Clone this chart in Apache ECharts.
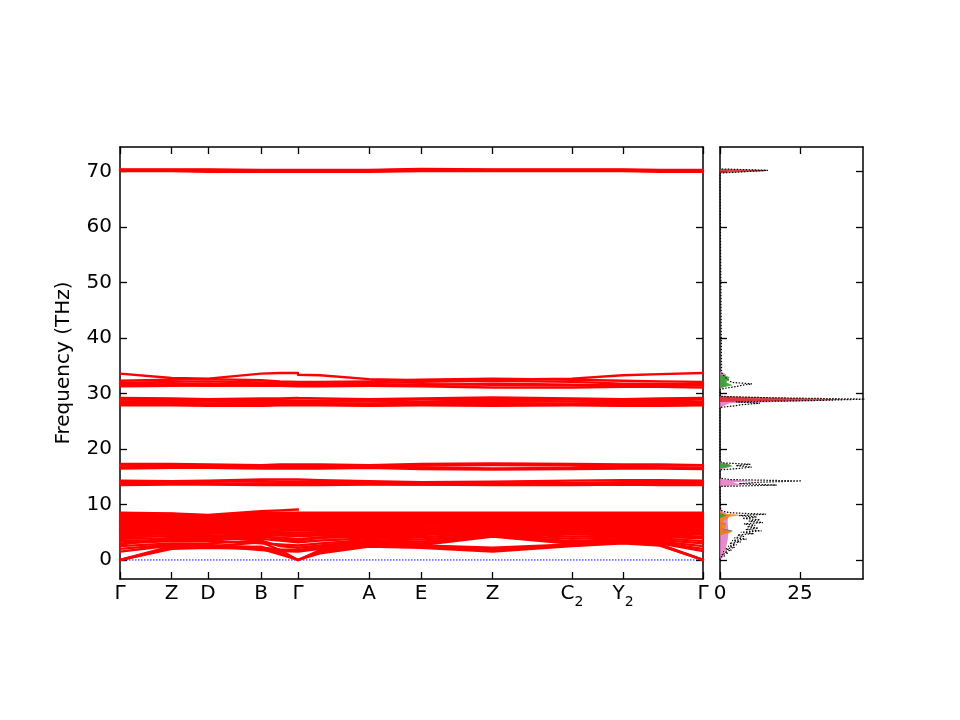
<!DOCTYPE html>
<html><head><meta charset="utf-8">
<script src="https://cdn.jsdelivr.net/npm/echarts@6/dist/echarts.min.js"></script>
<style>html,body{margin:0;padding:0;background:#fff}#c{width:960px;height:720px}</style>
</head><body><div id="c"></div>
<script>
// k-path positions (two segments, broken at the middle Γ)
const kSeg1 = [0, 51.7, 88, 141, 160, 178];
const kSeg2 = [178, 200, 249, 301, 372.7, 452, 503, 540, 583];
const kTickPos = [0, 51.7, 88, 141, 178, 249, 301, 372.7, 452, 503, 583];
const kTickLabels = ['Γ', 'Z', 'D', 'B', 'Γ', 'A', 'E', 'Z', 'C_2', 'Y_2', 'Γ'];
const freqTicks = [0, 10, 20, 30, 40, 50, 60, 70];
const dosTicks = [0, 25];

// band frequencies (THz): first 6 values on segment 1, next 9 on segment 2
const bandsTop = [
  [70.3,70.3,70.3,70.2,70.2,70.1, 70.1,70.1,70.2,70.4,70.3,70.3,70.3,70.2,70.2],
  [70.2,70.2,70.2,70.1,70.1,70.1, 70.1,70.1,70.1,70.2,70.2,70.2,70.2,70.1,70.1],
  [70.1,70.1,70.0,70.0,70.0,70.0, 70.0,70.0,70.0,70.1,70.1,70.1,70.1,70.0,70.0],
  [70.4,70.4,70.4,70.3,70.3,70.3, 70.3,70.3,70.3,70.5,70.4,70.4,70.4,70.3,70.3]
];
const bands32 = [
  [33.6,32.8,32.7,33.6,33.7,33.7, 33.4,33.3,32.6,32.4,32.5,32.7,33.3,33.5,33.7],
  [32.3,32.5,32.6,32.4,32.2,32.1, 32.1,32.1,32.2,32.5,32.7,32.5,32.3,32.2,32.1],
  [31.9,32.1,32.2,32.0,31.9,31.8, 31.8,31.8,31.9,32.1,32.3,32.1,31.8,31.8,31.7],
  [31.6,31.7,31.8,31.7,31.6,31.5, 31.5,31.5,31.6,31.7,31.6,31.5,31.5,31.6,31.5],
  [31.3,31.4,31.5,31.4,31.4,31.3, 31.3,31.3,31.4,31.3,31.1,31.1,31.2,31.2,31.1],
  [31.8,31.6,31.4,31.5,31.6,31.7, 31.7,31.6,31.5,31.5,31.8,31.6,31.4,31.5,31.9]
];
const bands28 = [
  [29.2,29.1,29.0,29.1,29.1,29.2, 29.2,29.1,29.0,29.1,29.3,29.1,29.0,29.1,29.2],
  [28.9,28.8,28.9,28.8,28.8,28.7, 28.7,28.7,28.8,28.9,28.8,28.9,28.8,28.8,28.9],
  [28.6,28.5,28.6,28.5,28.5,28.5, 28.5,28.5,28.6,28.5,28.5,28.6,28.6,28.5,28.5],
  [28.3,28.3,28.2,28.3,28.2,28.2, 28.2,28.2,28.2,28.3,28.2,28.2,28.3,28.3,28.3],
  [28.0,28.0,28.1,27.9,28.0,28.0, 28.0,28.0,27.9,28.0,28.1,28.0,27.9,27.9,28.0],
  [27.9,27.9,27.8,27.8,27.9,27.9, 27.9,27.9,27.8,27.9,27.8,27.9,27.8,27.8,27.9]
];
const bands17 = [
  [17.3,17.3,17.2,17.1,17.2,17.2, 17.2,17.2,17.1,17.3,17.4,17.3,17.2,17.2,17.1],
  [17.0,17.0,16.9,16.8,16.9,16.9, 16.9,16.9,16.8,16.7,16.5,16.6,16.9,17.0,17.0],
  [16.7,16.8,16.9,16.9,16.8,16.8, 16.8,16.8,16.9,17.0,17.1,17.0,16.8,16.7,16.6],
  [16.5,16.6,16.6,16.5,16.5,16.5, 16.5,16.5,16.6,16.4,16.3,16.4,16.5,16.5,16.4]
];
const bands14 = [
  [14.3,14.2,14.3,14.5,14.5,14.5, 14.5,14.4,14.2,14.0,14.1,14.3,14.4,14.4,14.3],
  [14.0,14.0,14.1,14.2,14.1,14.1, 14.1,14.1,14.0,13.9,13.8,13.9,14.0,14.0,14.0],
  [13.8,13.8,13.7,13.8,13.8,13.8, 13.8,13.8,13.7,13.6,13.6,13.7,13.7,13.8,13.8],
  [13.5,13.6,13.6,13.5,13.5,13.5, 13.5,13.5,13.6,13.6,13.5,13.5,13.6,13.5,13.5]
];
const bandsLow = [
  [0.0,2.0,2.2,2.0,1.0,0.0, 0.0,1.2,2.4,2.2,1.5,2.5,3.0,2.6,0.0],
  [0.0,2.2,2.3,2.4,1.3,0.0, 0.0,1.5,2.6,2.4,1.8,2.6,3.1,2.7,0.0],
  [0.0,2.5,2.4,3.2,1.8,0.0, 0.0,1.8,2.8,2.5,2.0,2.7,3.2,2.8,0.0],
  [1.5,2.6,2.6,1.8,1.6,1.5, 1.5,2.0,3.0,2.6,2.2,2.8,3.3,3.0,1.6],
  [2.0,2.8,2.7,2.2,1.9,1.8, 1.8,2.3,3.2,2.7,4.2,2.9,3.4,3.1,2.0],
  [2.5,3.0,3.0,3.5,2.5,2.2, 2.2,2.6,3.4,3.0,4.3,3.1,3.6,3.3,2.5],
  [3.0,3.4,3.5,3.0,2.8,2.6, 2.6,3.0,3.6,3.3,4.4,3.4,3.8,3.6,3.0],
  [3.4,3.6,3.8,3.8,3.5,3.2, 3.2,3.5,3.9,3.7,4.6,3.8,4.1,3.9,3.4],
  [3.8,3.9,4.0,4.2,4.0,3.8, 3.8,4.0,4.2,4.1,4.8,4.2,4.4,4.2,3.9],
  [4.1,4.3,4.3,4.5,4.4,4.3, 4.3,4.4,4.5,4.5,5.0,4.6,4.7,4.5,4.2],
  [4.5,4.6,4.7,4.8,4.7,4.6, 4.6,4.7,4.8,4.8,5.2,4.9,5.0,4.8,4.6],
  [4.8,4.9,5.0,5.1,5.0,4.9, 4.9,5.0,5.1,5.1,5.4,5.2,5.2,5.1,4.9],
  [5.1,5.2,5.3,5.4,5.3,5.3, 5.3,5.3,5.4,5.4,5.6,5.5,5.5,5.4,5.2],
  [5.4,5.5,5.6,5.7,5.6,5.6, 5.6,5.6,5.7,5.7,5.8,5.8,5.8,5.7,5.5],
  [5.7,5.8,5.9,6.0,5.9,5.9, 5.9,5.9,6.0,6.0,6.1,6.0,6.1,6.0,5.8],
  [6.0,6.1,6.2,6.2,6.2,6.2, 6.2,6.2,6.3,6.3,6.3,6.3,6.3,6.3,6.1],
  [6.3,6.4,6.5,6.5,6.5,6.5, 6.5,6.5,6.5,6.5,6.6,6.6,6.6,6.5,6.4],
  [6.6,6.7,6.7,6.8,6.8,6.7, 6.7,6.7,6.8,6.8,6.8,6.8,6.9,6.8,6.7],
  [6.9,7.0,7.0,7.1,7.0,7.0, 7.0,7.0,7.0,7.1,7.1,7.1,7.1,7.1,7.0],
  [7.2,7.2,7.2,7.3,7.3,7.3, 7.3,7.3,7.3,7.3,7.3,7.4,7.4,7.3,7.3],
  [7.5,7.5,7.4,7.6,7.6,7.6, 7.6,7.5,7.5,7.6,7.6,7.6,7.6,7.6,7.6],
  [7.8,7.7,7.6,7.9,7.9,7.9, 7.8,7.8,7.8,7.8,7.8,7.9,7.9,7.9,7.9],
  [8.1,8.0,7.8,8.2,8.2,8.2, 8.1,8.1,8.1,8.1,8.1,8.2,8.2,8.2,8.2],
  [8.4,8.3,8.0,8.5,8.5,8.5, 8.4,8.4,8.4,8.4,8.4,8.4,8.4,8.4,8.4],
  [8.5,8.4,8.1,8.8,8.95,9.1, 8.5,8.5,8.5,8.5,8.5,8.5,8.5,8.5,8.5],
  [2.8,4.0,5.2,6.5,7.0,7.4, 7.4,7.0,6.2,5.5,5.0,6.0,6.8,7.2,7.5],
  [7.0,6.0,5.0,4.2,3.8,3.5, 3.5,4.0,5.0,6.2,7.0,6.5,5.5,4.5,4.0],
  [5.5,6.5,7.2,7.8,8.0,8.1, 8.1,7.8,7.2,6.5,6.0,6.8,7.5,7.8,8.0]
];

// total DOS (frequency, states)
const dosFreq = [0,0.25,0.5,0.75,1.0,1.25,1.5,1.75,2.0,2.25,2.5,2.75,3.0,3.25,3.5,3.75,4.0,4.25,4.5,4.75,5.0,5.25,5.5,5.75,6.0,6.25,6.5,6.75,7.0,7.25,7.5,7.75,8.0,8.25,8.5,8.75,9.0,9.25,
  13.25,13.5,13.75,14.0,14.25,14.5,14.75,
  16.25,16.5,16.75,17.0,17.25,17.5,17.75,
  27.5,27.75,28.0,28.25,28.5,28.75,29.0,29.25,29.5,
  30.75,31.0,31.25,31.5,31.75,32.0,32.25,32.5,32.75,33.0,33.25,33.5,33.75,34.0,
  69.75,70.0,70.25,70.5];
const dosTotal = [0,0.5,0.2,1.5,0.6,2.5,1.0,3.6,1.8,4.6,2.5,5.2,3.0,6.5,3.8,8.3,4.5,7.5,5.5,10.5,6.5,13.0,8.0,12.0,8.5,11.0,7.5,13.4,9.0,12.5,7.0,11.5,6.0,14.4,3.5,1.0,0.2,0,
  0,17.7,6,12,25.5,3,0,
  0,6,9.9,5,9.5,1,0,
  0,4,7,12.5,5,30,46,15,0,
  0,2,5,7,10,4,3,2.5,2,1.5,1.2,1.5,0.5,0,
  0,8,15,0];

// partial DOS
const pinkFreq = [0,0.5,1,2,3,4,5,6,7,8,8.5,9, 13.25,13.5,14.0,14.25,14.5,14.75, 16.25,16.75,17.25,17.75, 27.5,28.25,28.75,29.0,29.5, 30.75,31.5,32.5,33.5,34.0];
const pinkDos  = [0,0.8,1.2,1.8,2.2,2.5,2.6,2.5,2.4,2.6,1.5,0, 0,6.8,4,12.5,1,0, 0,3,3,0, 0,3,37,10,0, 0,2,1.5,2,0];
const redFreq = [27.5,28.5,28.9,29.1,29.5, 69.75,70.1,70.3,70.5];
const redDos  = [0,0,41,30,0, 0,14,14.5,0];
const greenFreq = [7.5,8.0,8.5, 16.5,16.9,17.2,17.5, 31.0,31.5,32.0,33.0,33.5];
const greenDos  = [0,2,0, 0,4,3,0, 0,4,2,3,0];
const blueFreq = [4.5,5.0,5.3,5.6,6.0,6.5,7.0];
const blueDos  = [0,2.5,4,1.5,0,2,0];
const orangeFreq = [4.5,4.8,5.2,5.5,6.0,7.0,7.8,8.1,8.4,8.8];
const orangeDos  = [0,3,4,1,2,1,3,7,1,0];

const FONT = 'DejaVu Sans';
const FS = 20;
const chart = echarts.init(document.getElementById('c'), null, {renderer: 'canvas'});

function bandData(b) {
  const d = kSeg1.map((k, i) => [k, b[i]]);
  d.push([178, '-']);
  kSeg2.forEach((k, i) => d.push([k, b[6 + i]]));
  return d;
}
const allBands = [].concat(bandsTop, bands32, bands28, bands17, bands14, bandsLow);
const series = allBands.map(b => ({
  type: 'line', xAxisIndex: 0, yAxisIndex: 0, data: bandData(b), showSymbol: false,
  connectNulls: false, silent: true,
  lineStyle: {color: '#ff0000', width: 2.4, cap: 'round', join: 'round'}, z: 3
}));
series.push({
  type: 'line', xAxisIndex: 0, yAxisIndex: 0, data: [[0, 0], [583, 0]], showSymbol: false, silent: true,
  lineStyle: {color: '#0000ff', width: 1, type: [1.5, 1.5]}, z: 2
});

function fillSeries(freq, dos, color) {
  return {
    type: 'custom', xAxisIndex: 2, yAxisIndex: 2, data: [[0, 0]], silent: true, z: 2,
    clip: true,
    renderItem: function (params, api) {
      const pts = [api.coord([0, freq[0]])];
      for (let i = 0; i < freq.length; i++) pts.push(api.coord([dos[i], freq[i]]));
      pts.push(api.coord([0, freq[freq.length - 1]]));
      return {type: 'polygon', shape: {points: pts}, style: {fill: color, opacity: 0.85}};
    }
  };
}
series.push(fillSeries(pinkFreq, pinkDos, '#e377c2'));
series.push(fillSeries(blueFreq, blueDos, '#1f77b4'));
series.push(fillSeries(orangeFreq, orangeDos, '#ff7f0e'));
series.push(fillSeries(greenFreq, greenDos, '#2ca02c'));
series.push(fillSeries(redFreq, redDos, '#d62728'));
series.push({
  type: 'line', xAxisIndex: 2, yAxisIndex: 2, showSymbol: false, silent: true, z: 4,
  data: dosFreq.map((f, i) => [dosTotal[i], f]),
  lineStyle: {color: '#000', width: 1.2, type: [1.5, 1.5]}
});

const axLine = {show: true, onZero: false, lineStyle: {color: '#000', width: 1.5}};
const tick = vals => ({show: true, inside: true, length: 7, customValues: vals, lineStyle: {color: '#000', width: 1.3}});
const lbl = {color: '#000', fontSize: FS, fontFamily: FONT};
const richLbl = {
  n: {color: '#000', fontSize: FS, fontFamily: FONT, verticalAlign: 'top', lineHeight: 24},
  s: {color: '#000', fontSize: 14, fontFamily: FONT, verticalAlign: 'top', lineHeight: 16, padding: [11, 0, 0, 0]}
};
function kLabel(v) {
  const i = kTickPos.indexOf(v);
  if (i < 0) return '';
  const parts = kTickLabels[i].split('_');
  return parts.length > 1 ? '{n|' + parts[0] + '}{s|' + parts[1] + '}' : '{n|' + parts[0] + '}';
}

chart.setOption({
  animation: false,
  backgroundColor: '#fff',
  grid: [
    {left: 120, top: 147, width: 583, height: 432},
    {left: 720, top: 147, width: 143, height: 432}
  ],
  xAxis: [
    {gridIndex: 0, type: 'value', min: 0, max: 583, position: 'bottom', axisLine: axLine,
     axisTick: tick(kTickPos), splitLine: {show: false},
     axisLabel: Object.assign({}, lbl, {margin: 5, customValues: kTickPos, formatter: kLabel, rich: richLbl})},
    {gridIndex: 0, type: 'value', min: 0, max: 583, position: 'top', axisLine: axLine,
     axisTick: tick(kTickPos), splitLine: {show: false}, axisLabel: {show: false}},
    {gridIndex: 1, type: 'value', min: 0, max: 44.7, position: 'bottom', axisLine: axLine,
     axisTick: tick(dosTicks), splitLine: {show: false},
     axisLabel: Object.assign({}, lbl, {margin: 5, customValues: dosTicks,
       formatter: v => '{n|' + v + '}', rich: richLbl})},
    {gridIndex: 1, type: 'value', min: 0, max: 44.7, position: 'top', axisLine: axLine,
     axisTick: tick(dosTicks), splitLine: {show: false}, axisLabel: {show: false}}
  ],
  yAxis: [
    {gridIndex: 0, type: 'value', min: -3.43, max: 74.45, position: 'left', axisLine: axLine,
     axisTick: tick(freqTicks), splitLine: {show: false},
     axisLabel: Object.assign({}, lbl, {margin: 8, customValues: freqTicks}),
     name: 'Frequency (THz)', nameLocation: 'middle', nameGap: 46,
     nameTextStyle: {color: '#000', fontSize: FS, fontFamily: FONT}},
    {gridIndex: 0, type: 'value', min: -3.43, max: 74.45, position: 'right', axisLine: axLine,
     axisTick: tick(freqTicks), splitLine: {show: false}, axisLabel: {show: false}},
    {gridIndex: 1, type: 'value', min: -3.43, max: 74.45, position: 'left', axisLine: axLine,
     axisTick: tick(freqTicks), splitLine: {show: false}, axisLabel: {show: false}},
    {gridIndex: 1, type: 'value', min: -3.43, max: 74.45, position: 'right', axisLine: axLine,
     axisTick: tick(freqTicks), splitLine: {show: false}, axisLabel: {show: false}}
  ],
  series: series
});
</script>
</body></html>
